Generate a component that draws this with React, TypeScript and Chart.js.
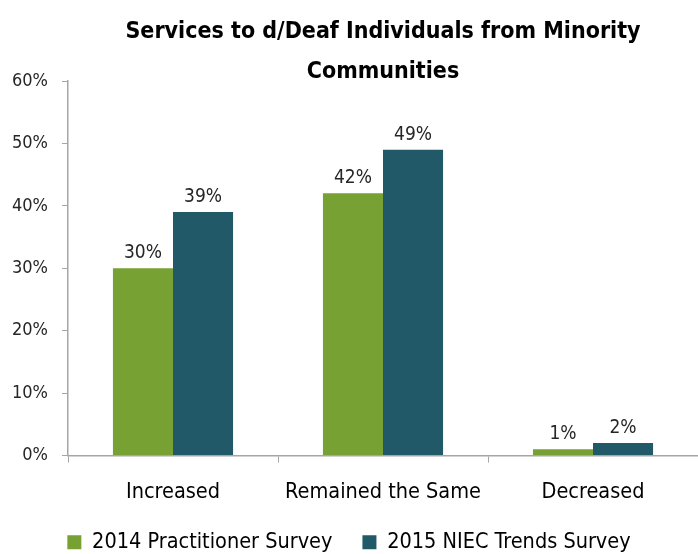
import React, { useEffect, useRef } from "react";
import { Chart, registerables } from "chart.js";

Chart.register(...registerables);

const categories = ["Increased", "Remained the Same", "Decreased"];
const series2014 = [30, 42, 1];
const series2015 = [39, 49, 2];
const seriesNames = ["2014 Practitioner Survey", "2015 NIEC Trends Survey"];
const titleLines = ["Services to d/Deaf Individuals from Minority", "Communities"];
const yTicks = [0, 10, 20, 30, 40, 50, 60];

const FONT = '"Liberation Sans Narrow", "DejaVu Sans Condensed", "Noto Sans", sans-serif';
const GREEN = "#77a132";
const TEAL = "#215968";
const AXIS = "#a6a6a6";

const titlePlugin = {
  id: "customTitle",
  afterDraw(chart: any) {
    const { ctx, chartArea } = chart;
    const cx = (chartArea.left + chartArea.right) / 2;
    ctx.save();
    ctx.fillStyle = "#000";
    ctx.font = `bold 23px ${FONT}`;
    ctx.textAlign = "center";
    ctx.textBaseline = "alphabetic";
    ctx.fillText(titleLines[0], cx, 38);
    ctx.fillText(titleLines[1], cx, 78);
    ctx.restore();
  },
};

const valueLabelPlugin = {
  id: "valueLabels",
  afterDatasetsDraw(chart: any) {
    const { ctx } = chart;
    ctx.save();
    ctx.fillStyle = "#262626";
    ctx.font = `19px ${FONT}`;
    ctx.textAlign = "center";
    ctx.textBaseline = "alphabetic";
    chart.data.datasets.forEach((ds: any, di: number) => {
      const meta = chart.getDatasetMeta(di);
      meta.data.forEach((el: any, i: number) => {
        ctx.fillText(`${ds.data[i]}%`, el.x, el.y - 10);
      });
    });
    ctx.restore();
  },
};

export default function App() {
  const ref = useRef<HTMLCanvasElement | null>(null);
  useEffect(() => {
    document.body.style.margin = "0";
    const chart = new Chart(ref.current as HTMLCanvasElement, {
      type: "bar",
      data: {
        labels: categories,
        datasets: [
          { label: seriesNames[0], data: series2014, backgroundColor: GREEN },
          { label: seriesNames[1], data: series2015, backgroundColor: TEAL },
        ],
      },
      options: {
        animation: false,
        responsive: false,
        maintainAspectRatio: false,
        layout: { padding: { top: 81, right: 0, left: 0, bottom: -9 } },
        datasets: { bar: { categoryPercentage: 0.572, barPercentage: 1.0 } } as any,
        plugins: {
          title: { display: false },
          tooltip: { enabled: false },
          legend: {
            position: "bottom",
            labels: {
              boxWidth: 14,
              boxHeight: 14,
              padding: 30,
              color: "#000",
              font: { family: FONT, size: 21.5 },
            },
          },
        },
        scales: {
          x: {
            offset: true,
            grid: {
              display: true,
              offset: true,
              drawOnChartArea: false,
              drawTicks: true,
              tickLength: 7,
              color: AXIS,
            },
            border: { display: true, color: AXIS, width: 1.5 },
            ticks: { color: "#000", font: { family: FONT, size: 21.5 }, padding: 17 },
            afterFit(scale: any) {
              scale.height = 46;
            },
          },
          y: {
            min: 0,
            max: 60,
            afterBuildTicks(scale: any) {
              scale.ticks = yTicks.map((v) => ({ value: v }));
            },
            grid: {
              display: true,
              drawOnChartArea: false,
              drawTicks: true,
              tickLength: 6,
              color: AXIS,
            },
            border: { display: true, color: AXIS, width: 1.5 },
            ticks: {
              color: "#262626",
              font: { family: FONT, size: 18 },
              padding: 14,
              callback: (v: any) => `${v}%`,
            },
            afterFit(scale: any) {
              scale.width = 68;
            },
          },
        },
      },
      plugins: [titlePlugin, valueLabelPlugin],
    });
    return () => chart.destroy();
  }, []);
  return <canvas ref={ref} width={698} height={554} style={{ display: "block" }} />;
}
